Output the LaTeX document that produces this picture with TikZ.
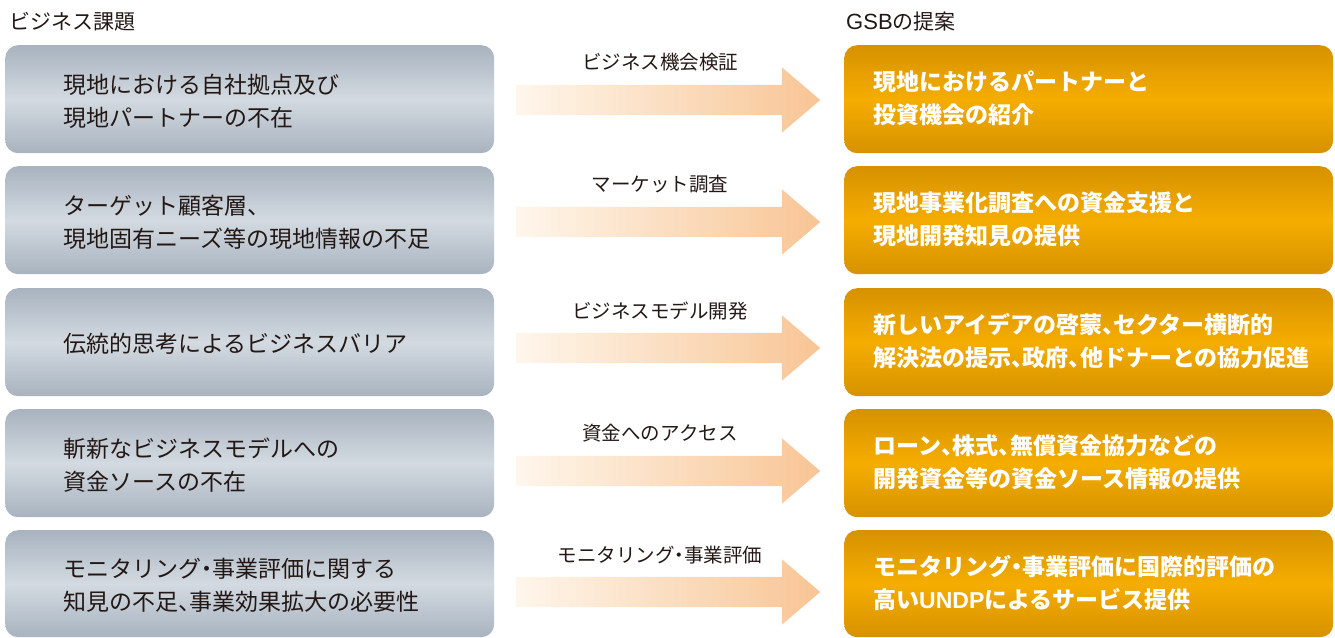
\documentclass[tikz,border=0pt]{standalone}
\usepackage{fontspec}
\setmainfont{Noto Sans CJK JP}
\newfontfamily\palfont{Noto Sans CJK JP}[RawFeature=+palt]
\newfontfamily\latfont{Liberation Sans}
\newcommand\pu[1]{{\palfont #1}}
\newcommand\lat[1]{{\latfont #1}}
\usetikzlibrary{shapes.arrows}
\definecolor{txt}{HTML}{231815}
\definecolor{grayedge}{HTML}{A8B3BF}
\definecolor{graymid}{HTML}{D3DAE1}
\definecolor{goldedge}{HTML}{D69200}
\definecolor{goldmid}{HTML}{F5AD00}
\definecolor{arrL}{HTML}{FEF6EC}
\definecolor{arrR}{HTML}{F8C595}
\begin{document}
\begin{tikzpicture}[x=1pt,y=-1pt,
  lbox/.style={shade, top color=grayedge, bottom color=grayedge, middle color=graymid,
    rounded corners=13pt, minimum width=489pt, minimum height=108pt, anchor=north west, inner sep=0pt},
  rbox/.style={shade, top color=goldedge, bottom color=goldedge, middle color=goldmid,
    rounded corners=13pt, minimum width=489pt, minimum height=108pt, anchor=north west, inner sep=0pt},
  ltext/.style={anchor=west, inner sep=0pt, align=left, text=txt, font=\fontsize{23}{33}\selectfont},
  rtext/.style={anchor=west, inner sep=0pt, align=left, text=white, font=\fontsize{23}{33}\selectfont\bfseries},
  title/.style={anchor=west, inner sep=0pt, text=txt, font=\fontsize{21}{25}\selectfont},
  arrlabel/.style={inner sep=0pt, text=txt, font=\fontsize{19.5}{22}\selectfont},
  bigarrow/.style={single arrow, shade, left color=arrL, right color=arrR, draw=none,
    minimum height=304pt, minimum width=65pt, single arrow head extend=17.5pt,
    single arrow tip angle=81, inner xsep=0pt, inner ysep=15pt, anchor=tail}
]
\useasboundingbox (0,0) rectangle (1335,637);

\node[title] (T1) at (9,22) {ビジネス課題};
\node[title] (T2) at (846,22) {\lat{\fontsize{22}{25}\selectfont GSB}の提案};

% left boxes
\node[lbox] (L1) at (5,45) {};
\node[lbox] (L2) at (5,166) {};
\node[lbox] (L3) at (5,288) {};
\node[lbox] (L4) at (5,409) {};
\node[lbox, minimum height=107pt] (L5) at (5,530) {};

% right boxes
\node[rbox] (R1) at (844,45) {};
\node[rbox] (R2) at (844,166) {};
\node[rbox] (R3) at (844,288) {};
\node[rbox] (R4) at (844,409) {};
\node[rbox, minimum height=107pt] (R5) at (844,530) {};

% left texts
\node[ltext] (L1t) at ([xshift=58pt,yshift=-2pt]L1.west) {現地における自社拠点及び\\現地パートナーの不在};
\node[ltext] (L2t) at ([xshift=58pt,yshift=-2pt]L2.west) {ターゲット顧客層\pu{、}\\現地固有ニーズ等の現地情報の不足};
\node[ltext] (L3t) at ([xshift=58pt,yshift=-2pt]L3.west) {伝統的思考によるビジネスバリア};
\node[ltext] (L4t) at ([xshift=58pt,yshift=-2pt]L4.west) {斬新なビジネスモデルへの\\資金ソースの不在};
\node[ltext] (L5t) at ([xshift=58pt,yshift=-2pt]L5.west) {モニタリング\pu{・}事業評価に関する\\知見の不足\pu{、}事業効果拡大の必要性};

% right texts
\node[rtext] (R1t) at ([xshift=29pt,yshift=1pt]R1.west) {現地におけるパートナーと\\投資機会の紹介};
\node[rtext] (R2t) at ([xshift=29pt,yshift=1pt]R2.west) {現地事業化調査への資金支援と\\現地開発知見の提供};
\node[rtext] (R3t) at ([xshift=29pt,yshift=1pt]R3.west) {新しいアイデアの啓蒙\pu{、}セクター横断的\\解決法の提示\pu{、}政府\pu{、}他ドナーとの協力促進};
\node[rtext] (R4t) at ([xshift=29pt,yshift=1pt]R4.west) {ローン\pu{、}株式\pu{、}無償資金協力などの\\開発資金等の資金ソース情報の提供};
\node[rtext] (R5t) at ([xshift=29pt,yshift=1pt]R5.west) {モニタリング\pu{・}事業評価に国際的評価の\\高い\lat{UNDP}によるサービス提供};

% arrows
\node[bigarrow] (A1) at (516,100) {};
\node[bigarrow] (A2) at (516,222) {};
\node[bigarrow] (A3) at (516,348) {};
\node[bigarrow] (A4) at (516,471) {};
\node[bigarrow] (A5) at (516,592) {};

\node[arrlabel] (A1l) at (660,62) {ビジネス機会検証};
\node[arrlabel] (A2l) at (660,184) {マーケット調査};
\node[arrlabel] (A3l) at (660,311) {ビジネスモデル開発};
\node[arrlabel] (A4l) at (660,433) {資金へのアクセス};
\node[arrlabel] (A5l) at (660,555) {モニタリング\pu{・}事業評価};
\end{tikzpicture}
\end{document}
